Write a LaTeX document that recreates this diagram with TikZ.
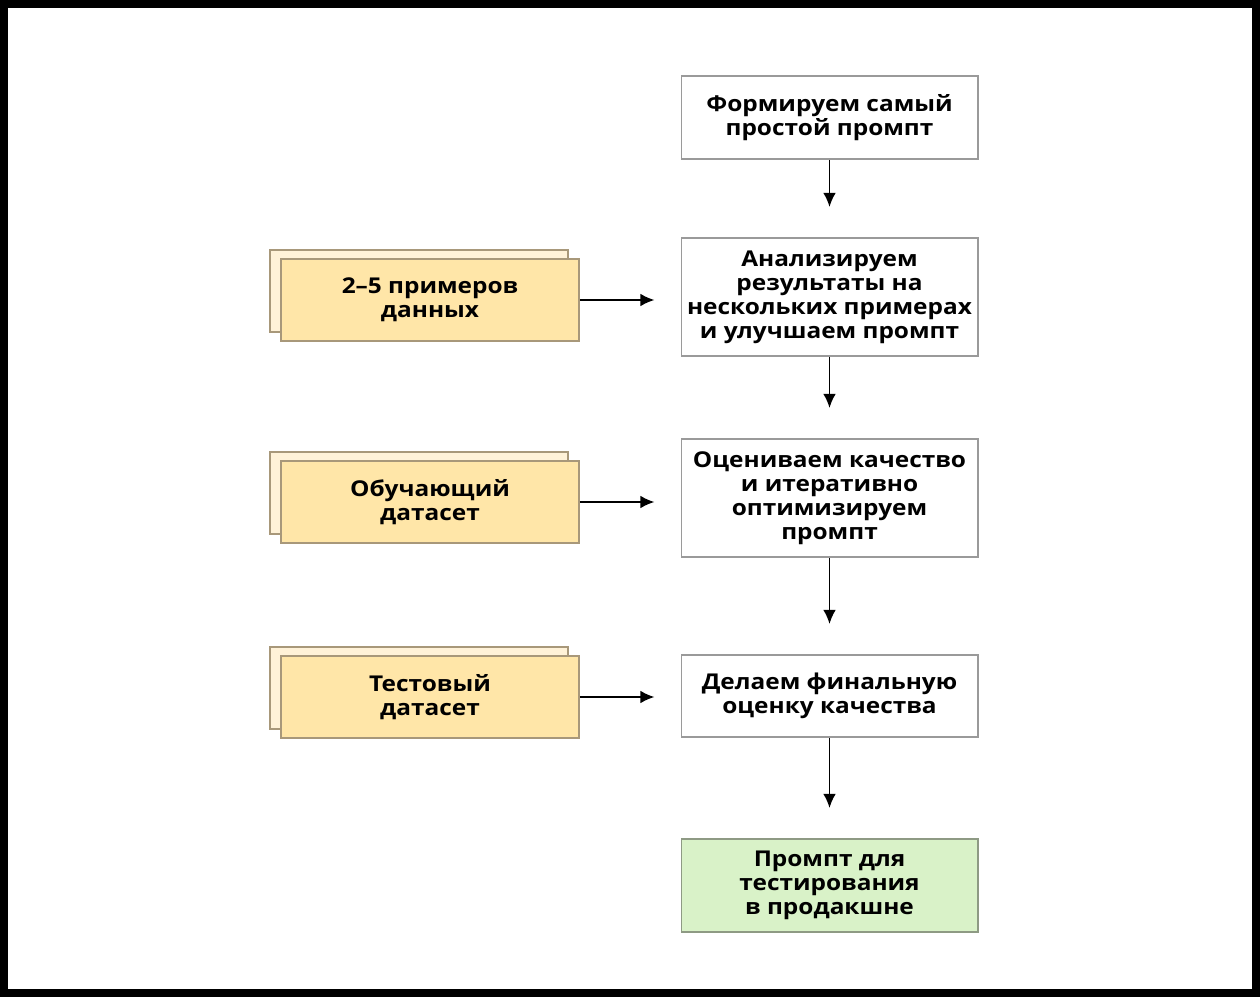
\documentclass[tikz,border=0pt]{standalone}
\usepackage{fontspec}
\setmainfont{Open Sans}[FakeStretch=1.12]
\usepackage{xcolor}
\usepackage{tikz}
\usetikzlibrary{arrows.meta,calc,positioning}
\definecolor{boxline}{HTML}{9A9A9A}
\definecolor{datafill}{HTML}{FFE6A8}
\definecolor{databack}{HTML}{FFF2D8}
\definecolor{dataline}{HTML}{A8987A}
\definecolor{finalfill}{HTML}{D9F2C8}
\definecolor{finalline}{HTML}{8E9A84}
\tikzset{
	stepbox/.style={draw=boxline, line width=1.4pt, fill=white, minimum width=7.4cm,
		align=center, inner sep=2pt, font=\fontsize{15.5}{17}\selectfont\bfseries},
	databox/.style={draw=dataline, line width=1.4pt, fill=datafill, minimum width=7.45cm,
		minimum height=2.05cm, align=center, font=\fontsize{15.5}{17}\selectfont\bfseries},
	shadowbox/.style={draw=dataline, line width=1.4pt, fill=databack, minimum width=7.45cm,
		minimum height=2.05cm},
	arr/.style={-{Latex[length=10pt,width=9pt]}, line width=1.4pt, shorten >=0.75cm}
}

\begin{document}
\begin{tikzpicture}

	% frame
	\useasboundingbox (0,0) rectangle (31.5,24.925);
	\draw[line width=0.2cm] (0.1,0.1) rectangle (31.4,24.825);

	% main column
	\node[stepbox, minimum height=2.075cm] (b1) at (20.7375,21.9875) {Формируем самый\\простой промпт};
	\node[stepbox, minimum height=2.95cm] (b2) at (20.7375,17.5) {Анализируем\\результаты на\\нескольких примерах\\и улучшаем промпт};
	\node[stepbox, minimum height=2.95cm] (b3) at (20.7375,12.475) {Оцениваем качество\\и итеративно\\оптимизируем\\промпт};
	\node[stepbox, minimum height=2.05cm] (b4) at (20.7375,7.525) {Делаем финальную\\оценку качества};
	\node[stepbox, draw=finalline, fill=finalfill, minimum height=2.325cm] (b5) at (20.7375,2.7875) {Промпт для\\тестирования\\ в продакшне};

	% data stacks
	\node[shadowbox] (s1) at (10.475,17.65) {};
	\node[databox] (d1) at (10.75,17.425) {2–5 примеров\\данных};
	\node[shadowbox] (s2) at (10.475,12.6) {};
	\node[databox] (d2) at (10.75,12.375) {Обучающий\\датасет};
	\node[shadowbox] (s3) at (10.475,7.725) {};
	\node[databox] (d3) at (10.75,7.5) {Тестовый\\датасет};

	\draw[arr] (b1) -- (b2);
	\draw[arr] (b2) -- (b3);
	\draw[arr] (b3) -- (b4);
	\draw[arr] (b4) -- (b5);

	\draw[arr, shorten >=0.65cm] (d1.east) -- (d1.east -| b2.west);
	\draw[arr, shorten >=0.65cm] (d2.east) -- (d2.east -| b3.west);
	\draw[arr, shorten >=0.65cm] (d3.east) -- (d3.east -| b4.west);

\end{tikzpicture}
\end{document}
